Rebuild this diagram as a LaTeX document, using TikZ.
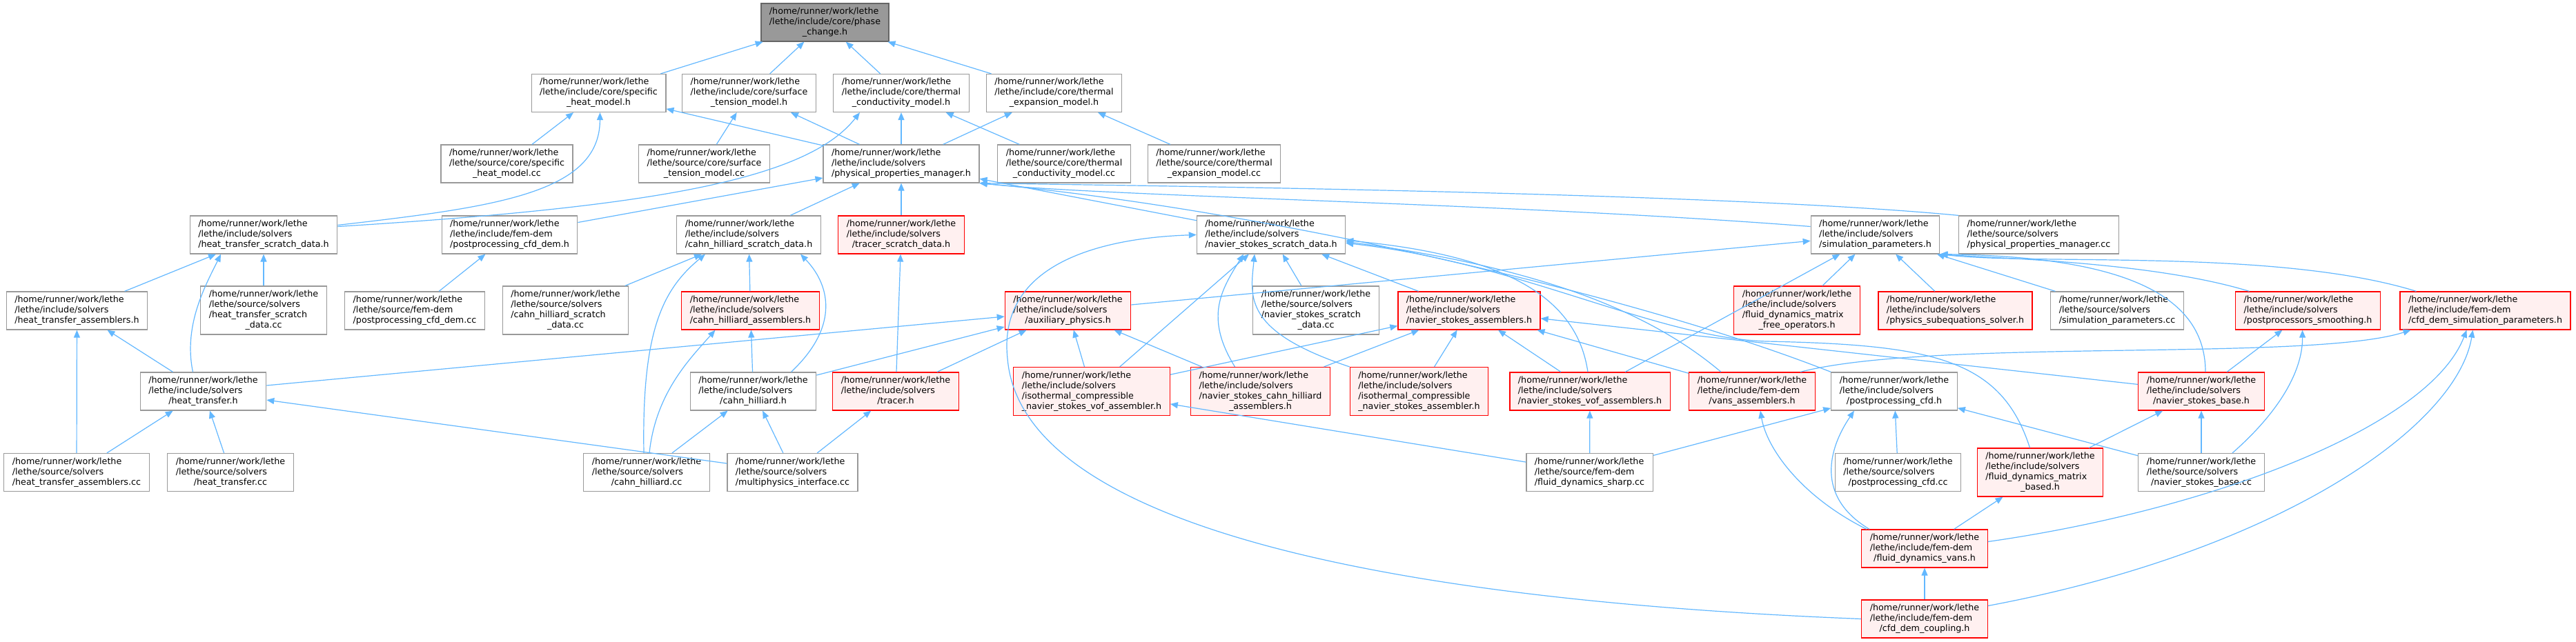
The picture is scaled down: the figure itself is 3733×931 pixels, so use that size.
\documentclass[tikz,border=0pt]{standalone}
\usepackage{fontspec}
\setmainfont{DejaVu Sans}
\usetikzlibrary{arrows.meta}

\definecolor{edgeblue}{HTML}{63B8FF}
\definecolor{nodegray}{HTML}{999999}
\definecolor{rootfill}{HTML}{999999}
\definecolor{rootdraw}{HTML}{666666}
\definecolor{truncfill}{HTML}{FFF0F0}

\newcommand{\pathlbl}[2]{\begin{tabular}{@{}l@{}}/home/runner/work/lethe\\#1\\\multicolumn{1}{@{}c@{}}{#2}\end{tabular}}
\newcommand{\pathlblf}[3]{\begin{tabular}{@{}l@{}}/home/runner/work/lethe\\#1\\#2\\\multicolumn{1}{@{}c@{}}{#3}\end{tabular}}

\begin{document}
\begin{tikzpicture}[
  x=1pt, y=-1pt,
  file/.style={draw=nodegray, fill=white, line width=1.2pt,
               inner xsep=12pt, inner ysep=5pt,
               font=\fontsize{12.7}{15}\selectfont},
  root/.style={file, draw=rootdraw, fill=rootfill},
  trunc/.style={file, draw=red, fill=truncfill},
  arr/.style={-{Triangle[length=11pt,width=9pt]}, draw=edgeblue, line width=1.2pt}
]
  \path[fill=white] (0,0) rectangle (3733,931);
  \useasboundingbox (0,0) rectangle (3733,931);

  % rows 1-3
  \node[root]  (pc)    at (1195.5, 32.5) {\pathlbl{/lethe/include/core/phase}{\_change.h}};
  \node[file]  (shm)   at (867.5, 135)   {\pathlbl{/lethe/include/core/specific}{\_heat\_model.h}};
  \node[file]  (stm)   at (1085.5, 135)  {\pathlbl{/lethe/include/core/surface}{\_tension\_model.h}};
  \node[file]  (tcm)   at (1306, 135)    {\pathlbl{/lethe/include/core/thermal}{\_conductivity\_model.h}};
  \node[file]  (tem)   at (1527.5, 135)  {\pathlbl{/lethe/include/core/thermal}{\_expansion\_model.h}};
  \node[file]  (shmcc) at (734.5, 237.5) {\pathlbl{/lethe/source/core/specific}{\_heat\_model.cc}};
  \node[file]  (stmcc) at (1020.5, 237.5) {\pathlbl{/lethe/source/core/surface}{\_tension\_model.cc}};
  \node[file]  (ppm)   at (1306, 237.5)  {\pathlbl{/lethe/include/solvers}{/physical\_properties\_manager.h}};
  \node[file]  (tcmcc) at (1542, 237.5)  {\pathlbl{/lethe/source/core/thermal}{\_conductivity\_model.cc}};
  \node[file]  (temcc) at (1759.5, 237.5) {\pathlbl{/lethe/source/core/thermal}{\_expansion\_model.cc}};

  % row 4
  \node[file]  (htsd)  at (382, 340.5)   {\pathlbl{/lethe/include/solvers}{/heat\_transfer\_scratch\_data.h}};
  \node[file]  (ppcd)  at (738.5, 340.5) {\pathlbl{/lethe/include/fem-dem}{/postprocessing\_cfd\_dem.h}};
  \node[file]  (chsd)  at (1085, 340.5)  {\pathlbl{/lethe/include/solvers}{/cahn\_hilliard\_scratch\_data.h}};
  \node[trunc] (trsd)  at (1306, 340.5)  {\pathlbl{/lethe/include/solvers}{/tracer\_scratch\_data.h}};
  \node[file]  (nssd)  at (1842, 340.5)  {\pathlbl{/lethe/include/solvers}{/navier\_stokes\_scratch\_data.h}};
  \node[file]  (simp)  at (2717.5, 340.5) {\pathlbl{/lethe/include/solvers}{/simulation\_parameters.h}};
  \node[file]  (ppmcc) at (2954.5, 340.5) {\pathlbl{/lethe/source/solvers}{/physical\_properties\_manager.cc}};

  % row 5
  \node[file]  (hta)    at (111.5, 450.5) {\pathlbl{/lethe/include/solvers}{/heat\_transfer\_assemblers.h}};
  \node[file]  (htsdcc) at (382, 450)     {\pathlblf{/lethe/source/solvers}{/heat\_transfer\_scratch}{\_data.cc}};
  \node[file]  (ppcdcc) at (601, 450.5)   {\pathlbl{/lethe/source/fem-dem}{/postprocessing\_cfd\_dem.cc}};
  \node[file]  (chsdcc) at (819.5, 450)   {\pathlblf{/lethe/source/solvers}{/cahn\_hilliard\_scratch}{\_data.cc}};
  \node[trunc] (cha)    at (1087.5, 450.5) {\pathlbl{/lethe/include/solvers}{/cahn\_hilliard\_assemblers.h}};
  \node[trunc] (aux)    at (1547.5, 450.5) {\pathlbl{/lethe/include/solvers}{/auxiliary\_physics.h}};
  \node[file]  (nssdcc) at (1907, 450)    {\pathlblf{/lethe/source/solvers}{/navier\_stokes\_scratch}{\_data.cc}};
  \node[trunc] (nsa)    at (2129, 450.5)  {\pathlbl{/lethe/include/solvers}{/navier\_stokes\_assemblers.h}};
  \node[trunc] (fdmfo)  at (2604, 450)    {\pathlblf{/lethe/include/solvers}{/fluid\_dynamics\_matrix}{\_free\_operators.h}};
  \node[trunc] (pss)    at (2833.5, 450.5) {\pathlbl{/lethe/include/solvers}{/physics\_subequations\_solver.h}};
  \node[file]  (simpcc) at (3068, 450.5)  {\pathlbl{/lethe/source/solvers}{/simulation\_parameters.cc}};
  \node[trunc] (pps)    at (3344.5, 450.5) {\pathlbl{/lethe/include/solvers}{/postprocessors\_smoothing.h}};
  \node[trunc] (cdsp)   at (3601.5, 450.5) {\pathlbl{/lethe/include/fem-dem}{/cfd\_dem\_simulation\_parameters.h}};

  % row 6
  \node[file]  (ht)      at (294.5, 567.5) {\pathlbl{/lethe/include/solvers}{/heat\_transfer.h}};
  \node[file]  (ch)      at (1091.5, 567.5) {\pathlbl{/lethe/include/solvers}{/cahn\_hilliard.h}};
  \node[trunc] (tr)      at (1298, 567.5)  {\pathlbl{/lethe/include/solvers}{/tracer.h}};
  \node[trunc] (icnsvof) at (1582, 567.5)  {\pathlblf{/lethe/include/solvers}{/isothermal\_compressible}{\_navier\_stokes\_vof\_assembler.h}};
  \node[trunc] (nscha)   at (1826.5, 567.5) {\pathlblf{/lethe/include/solvers}{/navier\_stokes\_cahn\_hilliard}{\_assemblers.h}};
  \node[trunc] (icns)    at (2056.5, 567.5) {\pathlblf{/lethe/include/solvers}{/isothermal\_compressible}{\_navier\_stokes\_assembler.h}};
  \node[trunc] (nsvofa)  at (2304, 567.5)  {\pathlbl{/lethe/include/solvers}{/navier\_stokes\_vof\_assemblers.h}};
  \node[trunc] (vansa)   at (2539, 567.5)  {\pathlbl{/lethe/include/fem-dem}{/vans\_assemblers.h}};
  \node[file]  (ppcfd)   at (2745, 567.5)  {\pathlbl{/lethe/include/solvers}{/postprocessing\_cfd.h}};
  \node[trunc] (nsb)     at (3190, 567.5)  {\pathlbl{/lethe/include/solvers}{/navier\_stokes\_base.h}};

  % rows 7-9
  \node[file]  (htacc)   at (111, 685)    {\pathlbl{/lethe/source/solvers}{/heat\_transfer\_assemblers.cc}};
  \node[file]  (htcc)    at (334, 685)    {\pathlbl{/lethe/source/solvers}{/heat\_transfer.cc}};
  \node[file]  (chcc)    at (937, 685)    {\pathlbl{/lethe/source/solvers}{/cahn\_hilliard.cc}};
  \node[file]  (mpicc)   at (1148.5, 685) {\pathlbl{/lethe/source/solvers}{/multiphysics\_interface.cc}};
  \node[file]  (fdscc)   at (2303.5, 685) {\pathlbl{/lethe/source/fem-dem}{/fluid\_dynamics\_sharp.cc}};
  \node[file]  (ppcfdcc) at (2750.5, 685) {\pathlbl{/lethe/source/solvers}{/postprocessing\_cfd.cc}};
  \node[trunc] (fdmb)    at (2956.5, 685) {\pathlblf{/lethe/include/solvers}{/fluid\_dynamics\_matrix}{\_based.h}};
  \node[file]  (nsbcc)   at (3190, 685)   {\pathlbl{/lethe/source/solvers}{/navier\_stokes\_base.cc}};
  \node[trunc] (fdv)     at (2789, 795.5) {\pathlbl{/lethe/include/fem-dem}{/fluid\_dynamics\_vans.h}};
  \node[trunc] (cdc)     at (2789, 897.5) {\pathlbl{/lethe/include/fem-dem}{/cfd\_dem\_coupling.h}};

  % straight includes
  \foreach \a/\b in {shm/pc, stm/pc, tcm/pc, tem/pc,
      shmcc/shm, ppm/shm, stmcc/stm, ppm/stm, ppm/tcm, tcmcc/tcm, ppm/tem, temcc/tem,
      ppcd/ppm, chsd/ppm, trsd/ppm, nssd/ppm,
      hta/htsd, htsdcc/htsd, ppcdcc/ppcd, chsdcc/chsd, cha/chsd,
      htacc/hta, ht/hta, htacc/ht, htcc/ht, ht/aux, mpicc/ht,
      ch/cha, ch/aux, chcc/ch, mpicc/ch, mpicc/tr, tr/trsd, tr/aux,
      aux/simp, icnsvof/aux, nscha/aux, icnsvof/nssd, nssdcc/nssd, nsa/nssd,
      icnsvof/nsa, nscha/nsa, icns/nsa, nsvofa/nsa, vansa/nsa, nsb/nsa,
      nsvofa/simp, fdmfo/simp, pss/simp, simpcc/simp,
      nsb/pps, fdscc/ppcfd, ppcfdcc/ppcfd, nsbcc/ppcfd, fdmb/nsb, nsbcc/nsb,
      fdv/fdmb, cdc/fdv, fdscc/nsvofa, fdscc/icnsvof}
    \draw[arr] (\a) -- (\b);

  % curved includes
  \draw[arr] ([yshift=14pt]htsd.east) .. controls (720,300) and (869,280) .. ([xshift=2pt]shm.south);
  \draw[arr] ([yshift=12pt]htsd.east) .. controls (950,300) and (1170,260) .. ([xshift=-60pt]tcm.south);
  \draw[arr] ([xshift=-15pt]ht.north) .. controls (265,470) and (300,410) .. ([xshift=-62pt]htsd.south);
  \draw[arr] ([xshift=55pt]ch.north) .. controls (1220,470) and (1200,410) .. ([xshift=75pt]chsd.south);
  \draw[arr] ([xshift=-4pt]chcc.north) .. controls (930,480) and (960,420) .. ([xshift=-63pt]chsd.south);
  \draw[arr] ([xshift=4pt]chcc.north) .. controls (950,570) and (1000,520) .. ([xshift=-51pt]cha.south);
  \draw[arr] ([xshift=-37pt]nscha.north) .. controls (1745,460) and (1770,420) .. ([xshift=-40pt]nssd.south);
  \draw[arr] (icns.north west) .. controls (1800,480) and (1812,430) .. ([xshift=-24pt]nssd.south);
  \draw[arr] ([xshift=-3pt]nsvofa.north) .. controls (2285,430) and (2180,370) .. ([yshift=-8pt]nssd.east);
  \draw[arr] ([xshift=-45pt]vansa.north) .. controls (2400,460) and (2250,390) .. ([yshift=-10pt]nssd.east);
  \draw[arr] ([xshift=-15pt]fdmb.north) .. controls (2900,520) and (2800,500) .. (2560,495)
             .. controls (2400,490) and (2200,380) .. ([yshift=-12pt]nssd.east);
  \draw[arr] (cdc.west) .. controls (2000,870) and (1480,760) .. (1460,520)
             .. controls (1445,380) and (1600,345) .. (nssd.west);
  \draw[arr] ([yshift=12pt]simp.west) .. controls (2200,295) and (1600,285) .. (ppm.south east);
  \draw[arr] (ppmcc.north west) .. controls (2500,280) and (1700,270) .. (ppm.south east);
  \draw[arr] (ppcfd.north west) .. controls (2350,420) and (1800,300) .. (ppm.south east);
  \draw[arr] ([xshift=-85pt]pps.north) .. controls (3120,380) and (2900,375) .. (simp.south east);
  \draw[arr] ([xshift=-100pt]cdsp.north) .. controls (3300,360) and (2950,385) .. (simp.south east);
  \draw[arr] ([xshift=6pt]nsb.north) .. controls (3196,420) and (3060,372) .. (simp.south east);
  \draw[arr] ([xshift=70pt]vansa.north) .. controls (2800,490) and (3350,525) .. ([xshift=-108pt]cdsp.south);
  \draw[arr] ([yshift=10pt]fdv.east) .. controls (3200,740) and (3520,620) .. ([xshift=-27pt]cdsp.south);
  \draw[arr] ([yshift=19pt]cdc.east) .. controls (3300,800) and (3560,620) .. ([xshift=-18pt]cdsp.south);
  \draw[arr] ([xshift=45pt]nsbcc.north) .. controls (3300,600) and (3337,540) .. ([xshift=-8pt]pps.south);
  \draw[arr] ([xshift=-80pt]fdv.north) .. controls (2630,720) and (2650,650) .. ([xshift=-58pt]ppcfd.south);
  \draw[arr] ([xshift=-84pt]fdv.north) .. controls (2610,720) and (2560,650) .. ([xshift=12pt]vansa.south);
\end{tikzpicture}
\end{document}
